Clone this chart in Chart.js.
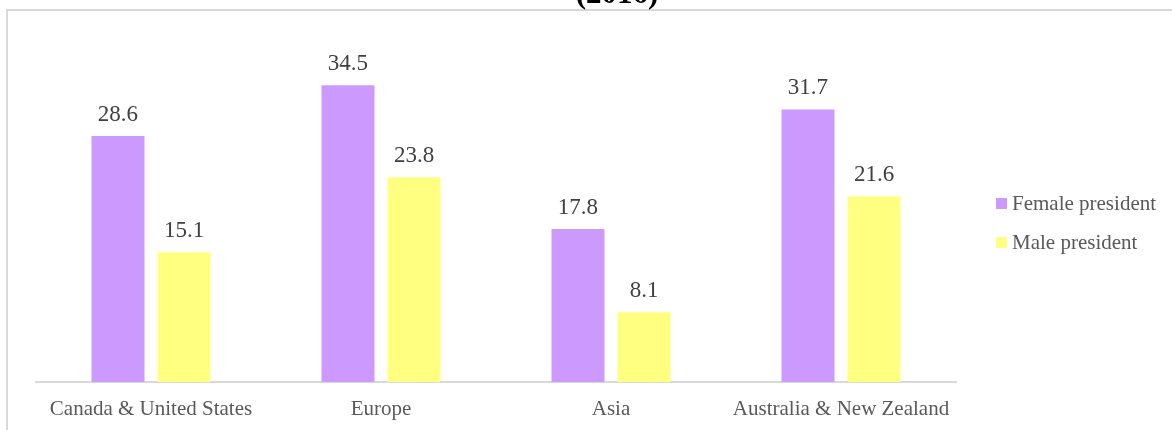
<!DOCTYPE html>
<html>
<head>
<meta charset="utf-8">
<script src="https://cdn.jsdelivr.net/npm/chart.js@4.4.1/dist/chart.umd.min.js"></script>
<style>
  html, body { margin: 0; padding: 0; background: #ffffff; }
  #wrap { position: relative; width: 1172px; height: 430px; }
</style>
</head>
<body>
<div id="wrap"><canvas id="chart" width="1172" height="430"></canvas></div>
<script>
// Regions and shares by gender of the president
const regions = ["Canada & United States", "Europe", "Asia", "Australia & New Zealand"];
const seriesNames = ["Female president", "Male president"];
const femaleValues = [28.6, 34.5, 17.8, 31.7];
const maleValues = [15.1, 23.8, 8.1, 21.6];
const seriesColors = ["#cc99ff", "#ffff80"];
const titleText = "(2016)";

const SERIF = '"Liberation Serif", "Times New Roman", serif';

// Outer frame and the title sitting above it
const framePlugin = {
  id: "frame",
  beforeDraw(chart) {
    const ctx = chart.ctx;
    ctx.save();
    ctx.fillStyle = "#ffffff";
    ctx.fillRect(0, 0, chart.width, chart.height);
    ctx.strokeStyle = "#d9d9d9";
    ctx.lineWidth = 2;
    ctx.beginPath();
    ctx.moveTo(7, chart.height);
    ctx.lineTo(7, 10);
    ctx.lineTo(chart.width, 10);
    ctx.stroke();
    ctx.fillStyle = "#000000";
    ctx.font = "bold 31px " + SERIF;
    ctx.textAlign = "center";
    ctx.textBaseline = "alphabetic";
    ctx.fillText(titleText, 617, 3);
    ctx.restore();
  }
};

// Value labels above each bar
const valueLabelPlugin = {
  id: "valueLabels",
  afterDatasetsDraw(chart) {
    const ctx = chart.ctx;
    ctx.save();
    ctx.fillStyle = "#404040";
    ctx.font = "23px " + SERIF;
    ctx.textAlign = "center";
    ctx.textBaseline = "alphabetic";
    chart.data.datasets.forEach((ds, i) => {
      const meta = chart.getDatasetMeta(i);
      meta.data.forEach((bar, j) => {
        ctx.fillText(ds.data[j].toFixed(1), bar.x, bar.y - 15);
      });
    });
    ctx.restore();
  }
};

// Legend on the right, built from the datasets
const sideLegendPlugin = {
  id: "sideLegend",
  afterDraw(chart) {
    const ctx = chart.ctx;
    ctx.save();
    ctx.font = "21px " + SERIF;
    ctx.textAlign = "left";
    ctx.textBaseline = "alphabetic";
    const x0 = 996, y0 = 210, step = 39;
    chart.data.datasets.forEach((ds, i) => {
      const yb = y0 + i * step;
      ctx.fillStyle = ds.backgroundColor;
      ctx.fillRect(x0, yb - 12, 11, 11);
      ctx.fillStyle = "#595959";
      ctx.fillText(ds.label, x0 + 16, yb);
    });
    ctx.restore();
  }
};

new Chart(document.getElementById("chart"), {
  type: "bar",
  data: {
    labels: regions,
    datasets: [
      { label: seriesNames[0], data: femaleValues, backgroundColor: seriesColors[0] },
      { label: seriesNames[1], data: maleValues, backgroundColor: seriesColors[1] }
    ]
  },
  options: {
    responsive: false,
    animation: false,
    events: [],
    layout: { padding: { left: 36, right: 216, top: 38, bottom: 0 } },
    datasets: { bar: { categoryPercentage: 0.574, barPercentage: 0.803 } },
    plugins: {
      legend: { display: false },
      title: { display: false },
      tooltip: { enabled: false }
    },
    scales: {
      x: {
        grid: { display: false, drawTicks: false },
        border: { display: true, color: "#d9d9d9", width: 2 },
        ticks: {
          color: "#595959",
          font: { family: SERIF, size: 21 },
          padding: 15,
          maxRotation: 0,
          autoSkip: false
        },
        afterFit(scale) { scale.height = 48; }
      },
      y: {
        display: false,
        min: 0,
        max: 40
      }
    }
  },
  plugins: [framePlugin, valueLabelPlugin, sideLegendPlugin]
});
</script>
</body>
</html>
